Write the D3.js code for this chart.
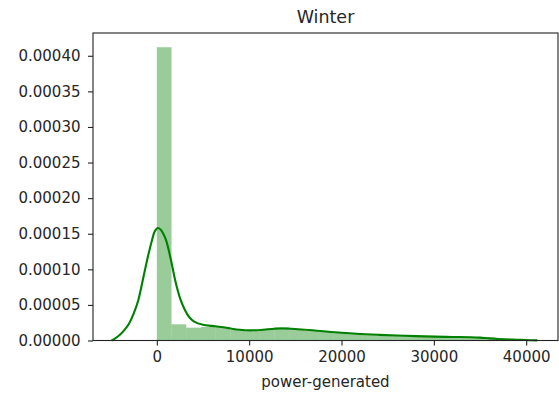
<!DOCTYPE html>
<html>
<head>
<meta charset="utf-8">
<script src="https://cdn.jsdelivr.net/npm/d3@7"></script>
<style>
  html, body { margin: 0; padding: 0; background: #fff; }
  svg text { font-family: "DejaVu Sans", sans-serif; fill: #262626; }
</style>
</head>
<body>
<svg id="chart" width="559" height="396"></svg>
<script>
// ---- data ----
const title = "Winter";
const xLabel = "power-generated";
const binStart = 0;
const binWidth = 1593;
const barDensity = [
  0.000412, 0.0000228, 0.000018, 0.000019, 0.000019, 0.000015, 0.000013,
  0.000016, 0.000019, 0.000016, 0.000014, 0.000012, 0.000011, 0.0000095,
  0.000009, 0.000008, 0.0000075, 0.000007, 0.0000065, 0.000006, 0.0000055,
  0.000005, 0.0000045, 0.000003, 0.000002, 0.000001
];
const kdeX = [
  -4900, -4500, -4000, -3500, -3000, -2500, -2000, -1500, -1000, -500, -200, 100, 400,
  700, 1000, 1500, 2000, 2500, 3000, 3500, 4000, 5000, 6000, 7000, 8000, 9000, 10000,
  11000, 12000, 13500, 15000, 16500, 18000, 20000, 22000, 24000, 26000, 28000,
  30000, 32000, 34000, 35000, 36000, 37000, 38000, 39000, 40000, 41200
];
const kdeY = [
  0, 0.000003, 0.000008, 0.000015, 0.000024, 0.000038, 0.000057, 0.000086, 0.000116,
  0.000142, 0.000154, 0.000158, 0.000156, 0.00015, 0.000141, 0.000115, 0.000084, 0.00006,
  0.000044, 0.000033, 0.000027, 0.000022, 0.0000205, 0.000019, 0.0000168, 0.000015,
  0.0000142, 0.0000145, 0.0000158, 0.0000168, 0.0000162, 0.0000148, 0.000013,
  0.0000108, 0.0000092, 0.000008, 0.000007, 0.0000062, 0.0000055, 0.000005,
  0.0000045, 0.000004, 0.000003, 0.0000022, 0.0000015, 0.000001, 0.0000006, 0.0000002
];
const xTicks = [0, 10000, 20000, 30000, 40000];
const yTicks = [0, 0.00005, 0.0001, 0.00015, 0.0002, 0.00025, 0.0003, 0.00035, 0.0004];

// ---- layout ----
const L = 93, R = 558, T = 33, B = 340.5;
const svg = d3.select("#chart");
const x = d3.scaleLinear().domain([-6912, 43445]).range([L, R]);
const y = d3.scaleLinear().domain([0, 0.000432]).range([B, T]);

// bars
const bins = barDensity.map((d, i) => ({ x0: binStart + i * binWidth, x1: binStart + (i + 1) * binWidth, v: d }));
svg.append("g").selectAll("rect").data(bins).join("rect")
  .attr("x", d => x(d.x0))
  .attr("y", d => y(d.v))
  .attr("width", d => x(d.x1) - x(d.x0))
  .attr("height", d => y(0) - y(d.v))
  .attr("fill", "#008000")
  .attr("fill-opacity", 0.4);

// kde line
const pts = kdeX.map((v, i) => [v, kdeY[i]]);
svg.append("path")
  .datum(pts)
  .attr("fill", "none")
  .attr("stroke", "#008000")
  .attr("stroke-width", 2.1)
  .attr("stroke-linejoin", "round")
  .attr("d", d3.line().x(d => x(d[0])).y(d => y(d[1])).curve(d3.curveCatmullRom.alpha(0.5)));

// axes
const xAxis = svg.append("g").attr("transform", `translate(0,${B})`)
  .call(d3.axisBottom(x).tickValues(xTicks).tickFormat(d3.format("d")).tickSize(5).tickPadding(6));
const yAxis = svg.append("g").attr("transform", `translate(${L},0)`)
  .call(d3.axisLeft(y).tickValues(yTicks).tickFormat(d3.format(".5f")).tickSize(5).tickPadding(7.5));
[xAxis, yAxis].forEach(g => {
  g.select(".domain").remove();
  g.selectAll("line").attr("stroke", "#222").attr("stroke-width", 1.1);
  g.selectAll("text").style("font-size", "15px").attr("fill", "#262626");
});

// frame
svg.append("rect").attr("x", L).attr("y", T).attr("width", R - L).attr("height", B - T)
  .attr("fill", "none").attr("stroke", "#222").attr("stroke-width", 1.1);

// labels
svg.append("text").attr("x", (L + R) / 2).attr("y", 23).attr("text-anchor", "middle")
  .style("font-size", "17.5px").text(title);
svg.append("text").attr("x", (L + R) / 2).attr("y", 387).attr("text-anchor", "middle")
  .style("font-size", "15px").text(xLabel);
</script>
</body>
</html>
